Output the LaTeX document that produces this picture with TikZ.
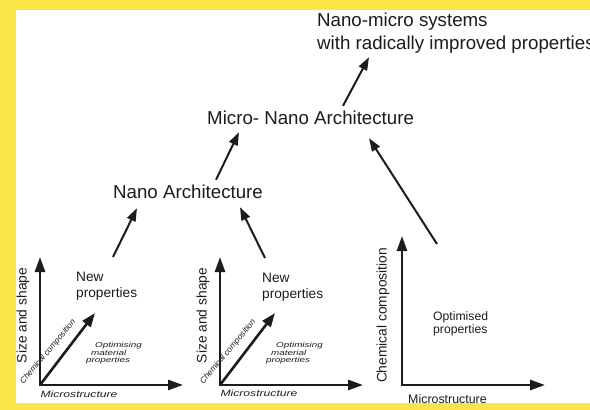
\documentclass[tikz,border=0pt]{standalone}
\usepackage{fontspec}
\setmainfont{Liberation Sans}
\newfontfamily\widefont{Liberation Sans}[FakeStretch=1.35]
\usetikzlibrary{arrows.meta}
\definecolor{framey}{RGB}{249,229,72}
\definecolor{ink}{RGB}{28,28,28}
\begin{document}
\begin{tikzpicture}[x=1pt,y=-1pt,
  big/.style={inner sep=0pt, anchor=base west, text height=13.5pt, text depth=4pt, font=\fontsize{18.7pt}{22pt}\selectfont, text=ink},
  axislabel/.style={inner sep=0pt, rotate=90, font=\fontsize{13.8pt}{16pt}\selectfont, text=ink},
  newprop/.style={inner sep=0pt, anchor=north west, align=left, font=\fontsize{13.7pt}{16pt}\selectfont, text=ink},
  optprop/.style={inner sep=0pt, anchor=north west, align=left, font=\fontsize{12.2pt}{13.5pt}\selectfont, text=ink},
  smalllab/.style={inner sep=0pt, anchor=north west, align=left, font=\widefont\itshape\fontsize{7.3pt}{7.5pt}\selectfont, text=ink},
  microlab/.style={inner sep=0pt, font=\widefont\itshape\fontsize{9pt}{10pt}\selectfont, text=ink},
  diaglab/.style={inner sep=0pt, rotate=50, font=\itshape\fontsize{8.3pt}{9pt}\selectfont, text=ink},
  axisline/.style={draw=ink, line width=2.6pt, line join=miter, {Triangle[length=15pt,width=10pt]}-{Triangle[length=15pt,width=10pt]}},
  diagarrow/.style={draw=ink, line width=2.6pt, -{Triangle[length=14pt,width=10pt]}},
  conn/.style={draw=ink, line width=2pt, -{Triangle[length=13pt,width=9pt]}}
]
\useasboundingbox (0,0) rectangle (590,410);
\fill[framey] (0,0) rectangle (590,410);
\fill[white] (16,10) rectangle (590,403);

% big labels
\node[big] (top1) at (317,26) {Nano-micro systems};
\node[big] (top2) at (317,49) {with radically improved properties};
\node[big] (micro) at (207,124) {Micro- Nano Architecture};
\node[big] (nano) at (113,198) {Nano Architecture};

% panel coordinates
\coordinate (o1) at (40,385);  \coordinate (y1) at (40,257);  \coordinate (x1) at (183,385);  \coordinate (d1) at (95,313);
\coordinate (o2) at (220,385); \coordinate (y2) at (220,257); \coordinate (x2) at (363,385);  \coordinate (d2) at (275,313);
\coordinate (o3) at (402,385); \coordinate (y3) at (402,236); \coordinate (x3) at (545,385);
\coordinate (t3) at (113,257); \coordinate (t4) at (265,258); \coordinate (t5) at (437,244);

% panel 1
\draw[axisline] (y1) -- (o1) -- (x1);
\draw[diagarrow] (o1) -- (d1);
\node[axislabel] (s1) at (23,315.5) {Size and shape};
\node[newprop] (n1) at (76,272) {New\\properties};
\node[smalllab] (p1) at (86,342.2) {\hspace*{9pt}Optimising\\\hspace*{5pt}material\\properties};
\node[microlab] (m1) at (79,394) {Microstructure};
\node[diaglab] (c1) at (48,352) {Chemical composition};

% panel 2
\draw[axisline] (y2) -- (o2) -- (x2);
\draw[diagarrow] (o2) -- (d2);
\node[axislabel] (s2) at (203,315.5) {Size and shape};
\node[newprop] (n2) at (262,273) {New\\properties};
\node[smalllab] (p2) at (266,342.2) {\hspace*{10pt}Optimising\\\hspace*{5pt}material\\properties};
\node[microlab] (m2) at (259,393.5) {Microstructure};
\node[diaglab] (c2) at (228,352) {Chemical composition};

% panel 3
\draw[axisline] (y3) -- (o3) -- (x3);
\node[axislabel] (s3) at (383,315.5) {Chemical composition};
\node[optprop] (n3) at (433,311) {Optimised\\properties};
\node[inner sep=0pt, anchor=base, font=\fontsize{12.4pt}{14pt}\selectfont, text=ink] (m3) at (447.5,403) {Microstructure};

% connectors
\draw[conn] ([xshift=136pt,yshift=4.5pt]micro.north west) -- ([xshift=52pt,yshift=-4pt]top2.south west);
\draw[conn] ([xshift=103pt,yshift=4.5pt]nano.north west) -- ([xshift=32pt,yshift=-4pt]micro.south west);
\draw[conn] (t3) -- ([xshift=24pt,yshift=-6pt]nano.south west);
\draw[conn] (t4) -- ([xshift=127pt,yshift=-5pt]nano.south west);
\draw[conn] (t5) -- ([xshift=162pt,yshift=-10pt]micro.south west);
\end{tikzpicture}
\end{document}
